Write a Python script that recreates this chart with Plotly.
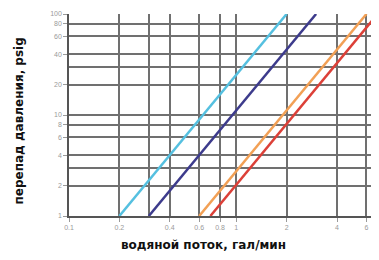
import plotly.graph_objects as go
import math

# Data (flow in gal/min vs pressure drop in psig)
flow_cyan = [0.2, 2.0]
flow_navy = [0.3, 3.0]
flow_orange = [0.6, 6.0]
flow_red = [0.7, 7.0]
dp = [1, 100]

x_ticks = [0.1, 0.2, 0.4, 0.6, 0.8, 1, 2, 4, 6, 8]
x_ticktext = ["0.1", "0.2", "0.4", "0.6", "0.8", "1", "2", "4", "6", "8"]
x_minor = [0.3]
y_ticks = [1, 2, 4, 6, 8, 10, 20, 40, 60, 80, 100]
y_ticktext = ["1", "2", "4", "6", "8", "10", "20", "40", "60", "80", "100"]
y_minor = [3, 30]

series = [
    (flow_cyan, "#55c0e0"),
    (flow_navy, "#3d3b8c"),
    (flow_orange, "#f2a055"),
    (flow_red, "#dc4038"),
]

fig = go.Figure()
for xs, col in series:
    fig.add_trace(go.Scatter(x=xs, y=dp, mode="lines",
                             line=dict(color=col, width=2.5),
                             showlegend=False, hoverinfo="skip"))

grid_col = "#707070"
L, T, B = 61, 6, 52
W, H = 379, 260
pw, ph = W - L, H - T - B
fig.update_layout(
    width=W, height=H,
    margin=dict(l=L, r=0, t=T, b=B),
    paper_bgcolor="white", plot_bgcolor="white",
    font=dict(family="Liberation Sans, Arial", color="#000"),
    xaxis=dict(
        type="log", range=[-1, math.log10(7.96)],
        tickvals=x_ticks, ticktext=x_ticktext,
        tickfont=dict(size=7, color="#9a9a9a"),
        ticks="outside", ticklen=4, tickcolor="#9a9a9a", tickwidth=1,
        showgrid=True, gridcolor=grid_col, gridwidth=1.5,
        minor=dict(tickvals=x_minor, showgrid=True, gridcolor=grid_col, gridwidth=1.5, ticks=""),
        showline=True, linecolor="#555", linewidth=1.5,
        zeroline=False, fixedrange=True,
    ),
    yaxis=dict(
        type="log", range=[0, 2],
        tickvals=y_ticks, ticktext=y_ticktext,
        tickfont=dict(size=7, color="#9a9a9a"),
        ticks="outside", ticklen=4, tickcolor="#9a9a9a", tickwidth=1,
        showgrid=True, gridcolor=grid_col, gridwidth=1.5,
        minor=dict(tickvals=y_minor, showgrid=True, gridcolor=grid_col, gridwidth=1.5, ticks=""),
        showline=True, linecolor="#555", linewidth=1.5,
        zeroline=False, fixedrange=True,
    ),
    annotations=[
        dict(text="<b>водяной поток, гал/мин</b>", xref="paper", yref="paper",
             x=(195 - L) / pw, y=(H - B - 237) / ph, xanchor="center", yanchor="middle",
             showarrow=False, font=dict(family="DejaVu Sans", size=12, color="#111")),
        dict(text="<b>перепад давления, psig</b>", xref="paper", yref="paper",
             x=(10.5 - L) / pw, y=(H - B - 113) / ph, xanchor="center", yanchor="middle",
             textangle=-90, showarrow=False, font=dict(family="DejaVu Sans", size=12, color="#111")),
    ],
)

fig.write_html("out.html")
